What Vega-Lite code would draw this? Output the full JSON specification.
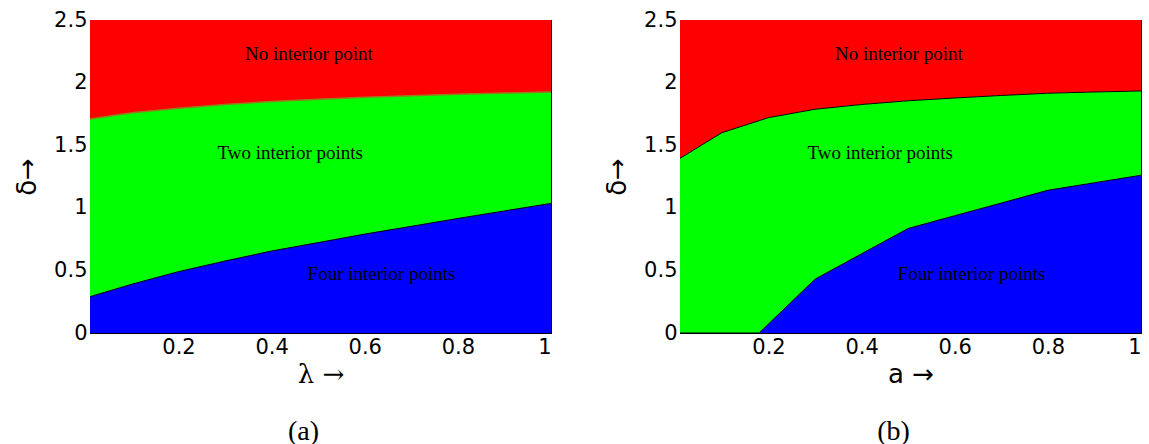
{
  "$schema": "https://vega.github.io/schema/vega-lite/v6.json",
  "padding": {"left": 14, "top": 8, "right": 4, "bottom": 0},
  "spacing": 52,
  "background": "white",
  "config": {
    "view": {"stroke": "black", "strokeWidth": 1},
    "axis": {
      "grid": false,
      "domainColor": "black",
      "tickColor": "black",
      "labelColor": "black",
      "titleColor": "black",
      "labelFont": "DejaVu Sans",
      "labelFontSize": 21,
      "tickSize": -5,
      "labelPadding": 8,
      "titleFontWeight": "normal"
    }
  },
  "datasets": {
    "a": [
      {"x": 0.01, "gb": 0.29, "rg": 1.71},
      {"x": 0.1, "gb": 0.39, "rg": 1.76},
      {"x": 0.2, "gb": 0.49, "rg": 1.795},
      {"x": 0.3, "gb": 0.575, "rg": 1.825},
      {"x": 0.4, "gb": 0.655, "rg": 1.85},
      {"x": 0.5, "gb": 0.722, "rg": 1.867},
      {"x": 0.6, "gb": 0.79, "rg": 1.882},
      {"x": 0.7, "gb": 0.852, "rg": 1.895},
      {"x": 0.8, "gb": 0.915, "rg": 1.906},
      {"x": 0.9, "gb": 0.975, "rg": 1.916},
      {"x": 1.0, "gb": 1.035, "rg": 1.925}
    ],
    "b": [
      {"x": 0.01, "gb": 0, "rg": 1.395},
      {"x": 0.1, "gb": 0, "rg": 1.6},
      {"x": 0.18, "gb": 0, "rg": 1.696},
      {"x": 0.2, "gb": 0.072, "rg": 1.72},
      {"x": 0.3, "gb": 0.43, "rg": 1.787},
      {"x": 0.4, "gb": 0.633, "rg": 1.825},
      {"x": 0.5, "gb": 0.835, "rg": 1.855},
      {"x": 0.6, "gb": 0.937, "rg": 1.877},
      {"x": 0.7, "gb": 1.038, "rg": 1.897},
      {"x": 0.8, "gb": 1.14, "rg": 1.915},
      {"x": 0.9, "gb": 1.2, "rg": 1.925},
      {"x": 1.0, "gb": 1.26, "rg": 1.933}
    ],
    "labels": [
      {"x": 0.48, "y": 2.23, "t": "No interior point"},
      {"x": 0.44, "y": 1.435, "t": "Two interior points"},
      {"x": 0.636, "y": 0.47, "t": "Four interior points"}
    ]
  },
  "hconcat": [
    {
      "width": 461,
      "height": 313,
      "title": {"text": "(a)", "orient": "bottom", "font": "Liberation Serif", "fontSize": 28, "fontWeight": "normal", "color": "black", "dx": -17, "offset": 31},
      "data": {"name": "a"},
      "resolve": {"axis": {"x": "independent", "y": "independent"}},
      "layer": [
        {
          "mark": {"type": "area", "color": "#ff0000", "orient": "vertical", "clip": true},
          "encoding": {
            "x": {"field": "x", "type": "quantitative", "scale": {"domain": [0.01, 1], "nice": false, "zero": false},
              "axis": {"values": [0.2, 0.4, 0.6, 0.8, 1], "labelExpr": "'' + datum.value", "title": "λ  →", "titleFont": "DejaVu Serif", "titleFontSize": 26, "titlePadding": 4}},
            "y": {"field": "rg", "type": "quantitative", "scale": {"domain": [0, 2.5], "nice": false},
              "axis": {"values": [0, 0.5, 1, 1.5, 2, 2.5], "labelExpr": "'' + datum.value", "title": "δ→", "titleFont": "DejaVu Sans", "titleFontSize": 26, "titlePadding": 13}},
            "y2": {"datum": 2.5}
          }
        },
        {
          "mark": {"type": "area", "color": "#00ff00", "orient": "vertical", "clip": true},
          "encoding": {
            "x": {"field": "x", "type": "quantitative", "axis": {"orient": "top", "values": [0.2, 0.4, 0.6, 0.8, 1], "labels": false, "title": null}},
            "y": {"field": "gb", "type": "quantitative", "axis": {"orient": "right", "values": [0, 0.5, 1, 1.5, 2, 2.5], "labels": false, "title": null}},
            "y2": {"field": "rg"}
          }
        },
        {
          "mark": {"type": "area", "color": "#0000ff", "orient": "vertical", "clip": true},
          "encoding": {
            "x": {"field": "x", "type": "quantitative", "axis": null},
            "y": {"field": "gb", "type": "quantitative", "axis": null},
            "y2": {"datum": 0}
          }
        },
        {
          "mark": {"type": "line", "color": "#9a7a1e", "strokeWidth": 1.5, "clip": true},
          "encoding": {
            "x": {"field": "x", "type": "quantitative", "axis": null},
            "y": {"field": "rg", "type": "quantitative", "axis": null}
          }
        },
        {
          "mark": {"type": "line", "color": "#000000", "strokeWidth": 1, "clip": true},
          "encoding": {
            "x": {"field": "x", "type": "quantitative", "axis": null},
            "y": {"field": "gb", "type": "quantitative", "axis": null}
          }
        },
        {
          "data": {"name": "labels"},
          "mark": {"type": "text", "font": "Liberation Serif", "fontSize": 19, "color": "black", "align": "center", "baseline": "middle"},
          "encoding": {
            "x": {"field": "x", "type": "quantitative", "axis": null},
            "y": {"field": "y", "type": "quantitative", "axis": null},
            "text": {"field": "t"}
          }
        }
      ]
    },
    {
      "width": 461,
      "height": 313,
      "title": {"text": "(b)", "orient": "bottom", "font": "Liberation Serif", "fontSize": 28, "fontWeight": "normal", "color": "black", "dx": -17, "offset": 31},
      "data": {"name": "b"},
      "resolve": {"axis": {"x": "independent", "y": "independent"}},
      "layer": [
        {
          "mark": {"type": "area", "color": "#ff0000", "orient": "vertical", "clip": true},
          "encoding": {
            "x": {"field": "x", "type": "quantitative", "scale": {"domain": [0.01, 1], "nice": false, "zero": false},
              "axis": {"values": [0.2, 0.4, 0.6, 0.8, 1], "labelExpr": "'' + datum.value", "title": "a  →", "titleFont": "DejaVu Sans", "titleFontSize": 26, "titlePadding": 4}},
            "y": {"field": "rg", "type": "quantitative", "scale": {"domain": [0, 2.5], "nice": false},
              "axis": {"values": [0, 0.5, 1, 1.5, 2, 2.5], "labelExpr": "'' + datum.value", "title": "δ→", "titleFont": "DejaVu Sans", "titleFontSize": 26, "titlePadding": 13}},
            "y2": {"datum": 2.5}
          }
        },
        {
          "mark": {"type": "area", "color": "#00ff00", "orient": "vertical", "clip": true},
          "encoding": {
            "x": {"field": "x", "type": "quantitative", "axis": {"orient": "top", "values": [0.2, 0.4, 0.6, 0.8, 1], "labels": false, "title": null}},
            "y": {"field": "gb", "type": "quantitative", "axis": {"orient": "right", "values": [0, 0.5, 1, 1.5, 2, 2.5], "labels": false, "title": null}},
            "y2": {"field": "rg"}
          }
        },
        {
          "mark": {"type": "area", "color": "#0000ff", "orient": "vertical", "clip": true},
          "encoding": {
            "x": {"field": "x", "type": "quantitative", "axis": null},
            "y": {"field": "gb", "type": "quantitative", "axis": null},
            "y2": {"datum": 0}
          }
        },
        {
          "mark": {"type": "line", "color": "#000000", "strokeWidth": 1, "clip": true},
          "encoding": {
            "x": {"field": "x", "type": "quantitative", "axis": null},
            "y": {"field": "rg", "type": "quantitative", "axis": null}
          }
        },
        {
          "mark": {"type": "line", "color": "#000000", "strokeWidth": 1, "clip": true},
          "encoding": {
            "x": {"field": "x", "type": "quantitative", "axis": null},
            "y": {"field": "gb", "type": "quantitative", "axis": null}
          }
        },
        {
          "data": {"name": "labels"},
          "mark": {"type": "text", "font": "Liberation Serif", "fontSize": 19, "color": "black", "align": "center", "baseline": "middle"},
          "encoding": {
            "x": {"field": "x", "type": "quantitative", "axis": null},
            "y": {"field": "y", "type": "quantitative", "axis": null},
            "text": {"field": "t"}
          }
        }
      ]
    }
  ]
}
